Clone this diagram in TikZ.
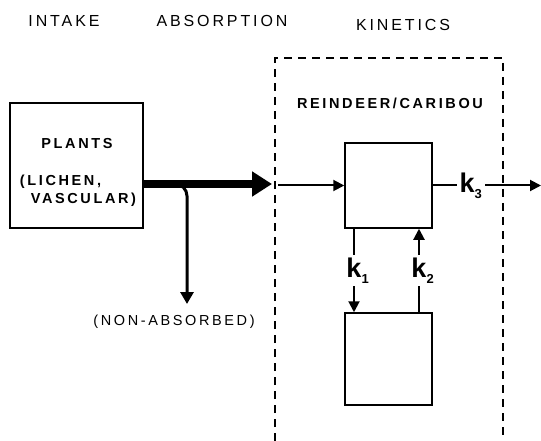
\documentclass[tikz,border=0pt]{standalone}
\usepackage{fontspec}
\setsansfont{Liberation Sans}[LetterSpace=18]
\usetikzlibrary{arrows.meta, positioning}

\newcommand{\ratesub}[1]{\raisebox{-6pt}{\fontsize{13}{13}\selectfont #1}}

\begin{document}
\begin{tikzpicture}[
    x=1pt, y=-1pt,
    font=\sffamily,
    heading/.style={
        font=\sffamily\fontsize{16}{18}\selectfont, inner sep=0pt
    },
    boxtext/.style={
        font=\sffamily\bfseries\fontsize{14.5}{18}\selectfont, inner sep=0pt
    },
    pool/.style={
        rectangle, draw=black, line width=1.5pt,
        fill=white, minimum width=87pt, minimum height=85pt, inner sep=0pt
    },
    rate/.style={
        font=\sffamily\bfseries\fontsize{27}{28}\selectfont,
        fill=white, inner sep=3pt
    },
    flow/.style={draw=black, line width=2pt, -{Triangle[length=11pt, width=11pt]}},
    bigflow/.style={draw=black, line width=8pt, -{Triangle[length=20pt, width=24pt]}},
    region/.style={draw=black, line width=1.5pt, dash pattern=on 8pt off 6pt}
]
\useasboundingbox (0,0) rectangle (541,441);

% ---------------------------------------------------------------------
% HEADINGS
% ---------------------------------------------------------------------
\node[heading] (Intake) at (64,21) {INTAKE};
\node[heading] (Absorption) at (222,21) {ABSORPTION};
\node[heading] (Kinetics) at (403,25) {KINETICS};

% ---------------------------------------------------------------------
% LEFT: PLANTS
% ---------------------------------------------------------------------
\node[pool, minimum width=133pt, minimum height=125pt] (Plants) at (76.5,165.5) {};
\node[boxtext] (PlantsName) at (77,144) {PLANTS};
\node[boxtext, align=left] (PlantsKind) at (78,191) {(LICHEN,\\\hspace*{0.75em}VASCULAR)};

% ---------------------------------------------------------------------
% RIGHT: REINDEER/CARIBOU
% ---------------------------------------------------------------------
\draw[region] (275,441) |- (503,58) -- (503,441);
\node[boxtext] (Animal) at (390,103) {REINDEER/CARIBOU};

\node[pool] (Pool1) at (388.5,185.5) {};
\node[pool, minimum height=92pt] (Pool2) at (388.5,359) {};

% ---------------------------------------------------------------------
% FLOWS
% ---------------------------------------------------------------------
\coordinate (Gate) at (272,184);
\coordinate (Waste) at (187,304);
\coordinate (Entry) at (278,185.5);
\coordinate (Exit) at (541,185.5);

\draw[bigflow] (Plants.east |- Gate) -- (Gate);
\draw[flow, line width=3pt, -{Triangle[length=12pt, width=13pt]}, rounded corners=12pt]
    (Plants.east |- Gate) -| (Waste);
\node[boxtext, font=\sffamily\fontsize{14.5}{18}\selectfont] (NonAbsorbed) at (174,322) {(NON-ABSORBED)};

\draw[flow] (Entry) -- (Pool1.west);
\draw[flow] (Pool1.east) -- node[rate, pos=0.35] {k\ratesub{3}} (Exit);

\draw[flow] ([xshift=-34.5pt]Pool1.south) -- node[rate] {k\rlap{\ratesub{1}}} ([xshift=-34.5pt]Pool2.north);
\draw[flow] ([xshift=30.5pt]Pool2.north) -- node[rate] {k\rlap{\ratesub{2}}} ([xshift=30.5pt]Pool1.south);

\end{tikzpicture}
\end{document}
